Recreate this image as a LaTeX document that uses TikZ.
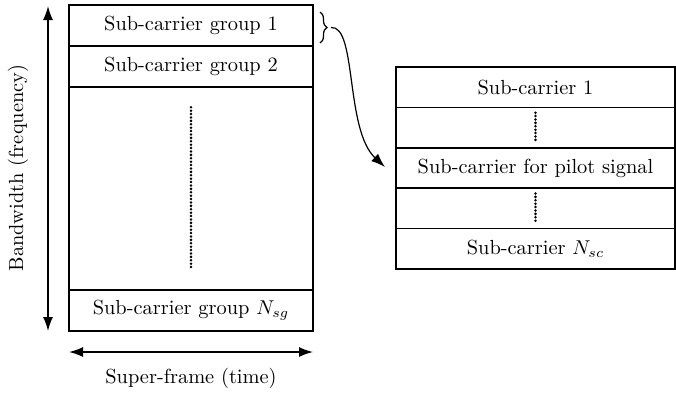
\documentclass[tikz,border=0pt]{standalone}
\usetikzlibrary{arrows.meta,decorations.pathreplacing}
\begin{document}
\begin{tikzpicture}[x=0.5pt,y=-0.5pt,
  line width=0.75pt,
  font=\fontsize{10.2}{12}\selectfont,
  grouprow/.style={draw,minimum width=122pt,minimum height=20.5pt,inner sep=0pt,anchor=center},
  carrier/.style={draw,minimum width=139.5pt,minimum height=20.2pt,inner sep=0pt,anchor=center},
  dotline/.style={line width=1.4pt,dash pattern=on 0pt off 1.7pt,line cap=round},
  arr/.style={-{Latex[length=7pt,width=5pt]}},
  dblarr/.style={{Latex[length=7pt,width=5pt]}-{Latex[length=7pt,width=5pt]}}]
\useasboundingbox (0,0) rectangle (676,392);

% super-frame: stack of sub-carrier groups
\node[grouprow] (g1) at (191,25.5) {Sub-carrier group 1};
\node[grouprow] (g2) at (191,66.5) {Sub-carrier group 2};
\node[grouprow,minimum height=101.5pt] (gmid) at (191,188.5) {};
\node[grouprow] (gN) at (191,310.5) {Sub-carrier group $N_{sg}$};
\draw[dotline] ([yshift=-10.5pt]gmid.north) -- ([yshift=11pt]gmid.south);

% axes
\coordinate (ftop) at (48,6);
\coordinate (fbot) at (48,331);
\draw[dblarr] (ftop) -- (fbot);
\node[rotate=90] (flabel) at (18,168) {Bandwidth (frequency)};
\coordinate (tleft) at (69,352);
\coordinate (tright) at (313,352);
\draw[dblarr] (tleft) -- (tright);
\node (tlabel) at (191,378) {Super-frame (time)};

% one group in detail
\node[carrier] (r1) at (535.5,87.2) {Sub-carrier 1};
\node[carrier] (r2) at (535.5,127.6) {};
\node[carrier] (r3) at (535.5,168) {Sub-carrier for pilot signal};
\node[carrier] (r4) at (535.5,208.4) {};
\node[carrier] (r5) at (535.5,248.8) {Sub-carrier $N_{sc}$};
\draw[dotline] ([yshift=-3pt]r2.north) -- ([yshift=4pt]r2.south);
\draw[dotline] ([yshift=-3pt]r4.north) -- ([yshift=4pt]r4.south);

% brace and link
\coordinate (bt) at (320,12);
\coordinate (bb) at (320,43);
\draw[line width=0.6pt,decorate,decoration={brace,amplitude=3.5pt}] (bt) -- (bb)
  coordinate[pos=0.5,xshift=4pt] (btip);
\coordinate (lend) at (385,167);
\draw[arr,line width=0.6pt] ([xshift=1.5pt]btip) .. controls (357,25) and (345,130) .. (lend);
\end{tikzpicture}
\end{document}
